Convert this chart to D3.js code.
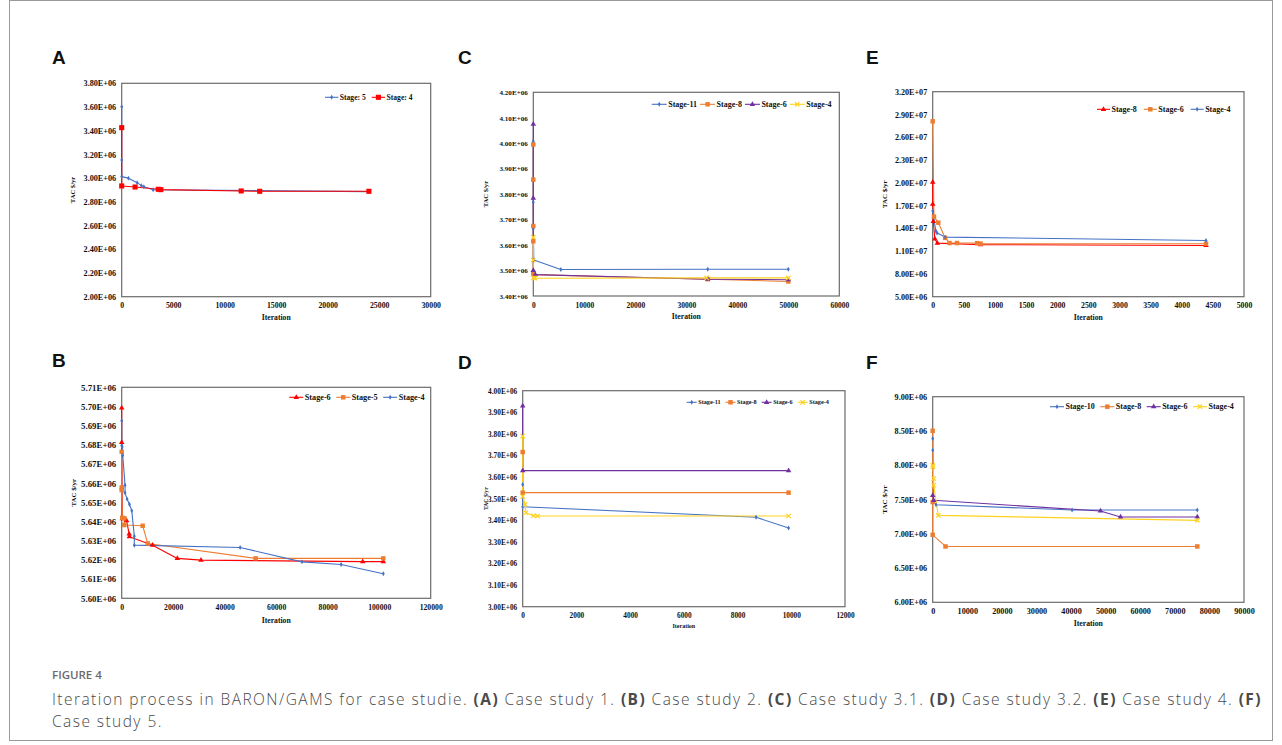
<!DOCTYPE html>
<html>
<head>
<meta charset="utf-8">
<script src="https://cdn.jsdelivr.net/npm/d3@7"></script>
<style>
  body { margin: 0; background: #fff; }
</style>
</head>
<body>
<script>
// ---- data ----
// A: case study 1
const aXTicks = [0, 5000, 10000, 15000, 20000, 25000, 30000];
const aYTicks = [2000000, 2200000, 2400000, 2600000, 2800000, 3000000, 3200000, 3400000, 3600000, 3800000];
const aStage5 = [[0, 3603000], [0, 3153000], [0, 3013000], [650, 3000000], [1500, 2962000], [1900, 2937000], [2150, 2928000], [3050, 2902000], [24000, 2886000]];
const aStage4 = [[0, 3426000], [0, 2934000], [1300, 2925000], [3550, 2906000], [3800, 2903000], [11600, 2892000], [13400, 2889000], [24000, 2889000]];

// B: case study 2
const bXTicks = [0, 20000, 40000, 60000, 80000, 100000, 120000];
const bYTicks = [5600000, 5610000, 5620000, 5630000, 5640000, 5650000, 5660000, 5670000, 5680000, 5690000, 5700000, 5710000];
const bStage6 = [[0, 5699200], [0, 5681300], [200, 5641500], [1900, 5640500], [2900, 5633500], [3000, 5632100], [12000, 5627700], [21600, 5620800], [30800, 5619900], [93600, 5619100], [101600, 5619100]];
const bStage5 = [[0, 5676400], [0, 5657800], [0, 5656400], [200, 5642000], [1000, 5641700], [1000, 5638200], [8150, 5637800], [10100, 5628600], [52000, 5620800], [101600, 5620800]];
const bStage4 = [[0, 5692600], [0, 5679600], [200, 5679000], [400, 5674500], [1300, 5659000], [1300, 5655000], [2100, 5651700], [3000, 5649000], [3900, 5645700], [4900, 5632400], [4900, 5627700], [46000, 5626500], [70000, 5619000], [85200, 5617600], [101600, 5612800]];

// C: case study 3.1
const cXTicks = [0, 10000, 20000, 30000, 40000, 50000, 60000];
const cYTicks = [3400000, 3500000, 3600000, 3700000, 3800000, 3900000, 4000000, 4100000, 4200000];
const cStage11 = [[0, 4008000], [0, 3768000], [0, 3664000], [100, 3541000], [5400, 3504000], [34200, 3505000], [50000, 3505000]];
const cStage8 = [[0, 3995000], [0, 3857000], [0, 3675000], [0, 3615000], [0, 3490000], [100, 3484000], [34200, 3466000], [50000, 3457000]];
const cStage6 = [[0, 4075000], [0, 3784000], [0, 3500000], [400, 3484000], [34200, 3466000], [50000, 3464000]];
const cStage4 = [[0, 3631000], [0, 3541000], [0, 3471000], [300, 3470000], [34000, 3471000], [50000, 3471000]];

// D: case study 3.2
const dXTicks = [0, 2000, 4000, 6000, 8000, 10000, 12000];
const dYTicks = [3000000, 3100000, 3200000, 3300000, 3400000, 3500000, 3600000, 3700000, 3800000, 3900000, 4000000];
const dStage11 = [[0, 3566000], [0, 3463000], [8690, 3414000], [9900, 3364000]];
const dStage8 = [[0, 3716000], [0, 3528000], [9900, 3528000]];
const dStage6 = [[0, 3929000], [0, 3630000], [9900, 3630000]];
const dStage4 = [[0, 3790000], [0, 3510000], [90, 3474000], [120, 3435000], [400, 3421000], [550, 3420000], [9900, 3420000]];

// E: case study 4
const eXTicks = [0, 500, 1000, 1500, 2000, 2500, 3000, 3500, 4000, 4500, 5000];
const eYTicks = [5000000, 8000000, 11000000, 14000000, 17000000, 20000000, 23000000, 26000000, 29000000, 32000000];
const eStage8 = [[0, 20100000], [0, 17200000], [10, 14900000], [35, 12600000], [75, 12050000], [770, 11850000], [4390, 11750000]];
const eStage6 = [[0, 28100000], [20, 15550000], [90, 14750000], [200, 12750000], [270, 12070000], [390, 12070000], [715, 12050000], [770, 11980000], [4390, 11980000]];
const eStage4 = [[0, 16300000], [50, 13650000], [70, 13400000], [200, 12850000], [4390, 12400000]];

// F: case study 5
const fXTicks = [0, 10000, 20000, 30000, 40000, 50000, 60000, 70000, 80000, 90000];
const fYTicks = [6000000, 6500000, 7000000, 7500000, 8000000, 8500000, 9000000];
const fStage10 = [[0, 8390000], [0, 8220000], [200, 7470000], [960, 7424000], [40300, 7347000], [76500, 7347000]];
const fStage8 = [[0, 8502000], [0, 7463000], [0, 6985000], [3700, 6815000], [76500, 6815000]];
const fStage6 = [[0, 7561000], [300, 7488000], [48500, 7332000], [54300, 7245000], [76500, 7245000]];
const fStage4 = [[0, 8000000], [100, 7980000], [300, 7805000], [300, 7707000], [1600, 7268000], [76500, 7196000]];

// ---- styling ----
const BLUE = "#4472C4", RED = "#FF0000", ORANGE = "#ED7D31", PURPLE = "#7030A0", YELLOW = "#FFD21F";
const SERIF = "'Liberation Serif', 'Times New Roman', serif";
const W = 1282, H = 745;

const MARKERS = {
    diamond: { type: d3.symbolDiamond, size: 7, stroke: false },
    square: { type: d3.symbolSquare, size: 20, stroke: false },
    bigsquare: { type: d3.symbolSquare, size: 26, stroke: false },
    triangle: { type: d3.symbolTriangle, size: 13, stroke: false },
    x: { type: d3.symbolX, size: 14, stroke: true }
};

const PANELS = [
    {
        letter: "A", letterAt: [52, 63.5], box: { l: 121.7, t: 83.3, r: 430.7, b: 296.7 },
        xTicks: aXTicks, yTicks: aYTicks,
        series: [
            { name: "Stage: 5", data: aStage5, color: BLUE, marker: "diamond" },
            { name: "Stage: 4", data: aStage4, color: RED, marker: "bigsquare" }
        ],
        legend: { x: 325, y: 97.3, line: 13.3, gap: 6 },
        font: { yTick: 8.2, xTick: 7.8, legend: 7.6, xTitle: 7.7, yTitle: 6.6 },
        xTitleDy: 21, yTitleDx: 48.4
    },
    {
        letter: "C", letterAt: [458, 64], box: { l: 533.3, t: 92.3, r: 839.3, b: 296 },
        xTicks: cXTicks, yTicks: cYTicks,
        series: [
            { name: "Stage-11", data: cStage11, color: BLUE, marker: "diamond" },
            { name: "Stage-8", data: cStage8, color: ORANGE, marker: "square" },
            { name: "Stage-6", data: cStage6, color: PURPLE, marker: "triangle" },
            { name: "Stage-4", data: cStage4, color: YELLOW, marker: "x" }
        ],
        legend: { x: 651.7, y: 104.3, line: 15, gap: 3 },
        font: { yTick: 7.1, xTick: 7.5, legend: 8.0, xTitle: 7.7, yTitle: 6.6 },
        xTitleDy: 20.7, yTitleDx: 47.3
    },
    {
        letter: "E", letterAt: [866, 63.5], box: { l: 932.7, t: 91.7, r: 1244, b: 296.7 },
        xTicks: eXTicks, yTicks: eYTicks,
        series: [
            { name: "Stage-8", data: eStage8, color: RED, marker: "triangle" },
            { name: "Stage-6", data: eStage6, color: ORANGE, marker: "square" },
            { name: "Stage-4", data: eStage4, color: BLUE, marker: "diamond" }
        ],
        legend: { x: 1097, y: 109.3, line: 13, gap: 7 },
        font: { yTick: 8.1, xTick: 7.8, legend: 8.0, xTitle: 7.7, yTitle: 6.9 },
        xTitleDy: 20.6, yTitleDx: 47.7
    },
    {
        letter: "B", letterAt: [52, 366.7], box: { l: 121.7, t: 387.3, r: 430.7, b: 598.3 },
        xTicks: bXTicks, yTicks: bYTicks,
        series: [
            { name: "Stage-6", data: bStage6, color: RED, marker: "triangle" },
            { name: "Stage-5", data: bStage5, color: ORANGE, marker: "square" },
            { name: "Stage-4", data: bStage4, color: BLUE, marker: "diamond" }
        ],
        legend: { x: 289.3, y: 397.3, line: 14, gap: 5.5 },
        font: { yTick: 8.8, xTick: 7.7, legend: 8.2, xTitle: 7.7, yTitle: 6.9 },
        xTitleDy: 22, yTitleDx: 48.4
    },
    {
        letter: "D", letterAt: [458, 369], box: { l: 522.7, t: 390.7, r: 845, b: 606.7 },
        xTicks: dXTicks, yTicks: dYTicks,
        series: [
            { name: "Stage-11", data: dStage11, color: BLUE, marker: "diamond" },
            { name: "Stage-8", data: dStage8, color: ORANGE, marker: "square" },
            { name: "Stage-6", data: dStage6, color: PURPLE, marker: "triangle" },
            { name: "Stage-4", data: dStage4, color: YELLOW, marker: "x" }
        ],
        legend: { x: 686.7, y: 402.3, line: 10, gap: 5 },
        font: { yTick: 7.3, xTick: 7.3, legend: 6.2, xTitle: 6.0, yTitle: 5.7 },
        xTitleDy: 19.3, yTitleDx: 37
    },
    {
        letter: "F", letterAt: [866, 369], box: { l: 932.7, t: 396.7, r: 1244, b: 602.3 },
        xTicks: fXTicks, yTicks: fYTicks,
        series: [
            { name: "Stage-10", data: fStage10, color: BLUE, marker: "diamond" },
            { name: "Stage-8", data: fStage8, color: ORANGE, marker: "square" },
            { name: "Stage-6", data: fStage6, color: PURPLE, marker: "triangle" },
            { name: "Stage-4", data: fStage4, color: YELLOW, marker: "x" }
        ],
        legend: { x: 1050, y: 406.7, line: 14, gap: 5.5 },
        font: { yTick: 8.2, xTick: 8.2, legend: 8.0, xTitle: 7.7, yTitle: 7.1 },
        xTitleDy: 21, yTitleDx: 47.7
    }
];

// 3.80E+06 style labels
const fmtE = v => {
    const e = Math.floor(Math.log10(v) + 1e-9);
    return (v / Math.pow(10, e)).toFixed(2) + "E+" + String(e).padStart(2, "0");
};

const drawMarker = (sel, key, color, x, y) => {
    const m = MARKERS[key];
    sel.append("path")
        .attr("d", d3.symbol(m.type, m.size)())
        .attr("transform", `translate(${x},${y})`)
        .attr("fill", m.stroke ? "none" : color)
        .attr("stroke", m.stroke ? color : "none")
        .attr("stroke-width", m.stroke ? 1.2 : 0);
};

const drawPanel = (svg, p) => {
    const x = d3.scaleLinear().domain(d3.extent(p.xTicks)).range([p.box.l, p.box.r]);
    const y = d3.scaleLinear().domain(d3.extent(p.yTicks)).range([p.box.b, p.box.t]);
    const g = svg.append("g");

    g.append("text")
        .attr("x", p.letterAt[0]).attr("y", p.letterAt[1])
        .attr("font-family", "'Liberation Sans', Arial, sans-serif")
        .attr("font-weight", "bold").attr("font-size", 19).attr("fill", "#111")
        .text(p.letter);

    // plot area frame
    g.append("rect")
        .attr("x", p.box.l).attr("y", p.box.t)
        .attr("width", p.box.r - p.box.l).attr("height", p.box.b - p.box.t)
        .attr("fill", "none").attr("stroke", "#6b6b6b").attr("stroke-width", 1.2);

    const yAxis = g.append("g").attr("transform", `translate(${p.box.l},0)`)
        .call(d3.axisLeft(y).tickValues(p.yTicks).tickFormat(fmtE).tickSize(0).tickPadding(5.5));
    yAxis.select(".domain").remove();
    yAxis.selectAll("text").attr("font-size", p.font.yTick);

    const xAxis = g.append("g").attr("transform", `translate(0,${p.box.b})`)
        .call(d3.axisBottom(x).tickValues(p.xTicks).tickFormat(d3.format("d")).tickSize(0).tickPadding(9 - p.font.xTick * 0.36));
    xAxis.select(".domain").remove();
    xAxis.selectAll("text").attr("font-size", p.font.xTick);

    g.selectAll(".tick text")
        .attr("font-family", SERIF).attr("font-weight", "bold").attr("fill", "#111");

    // series
    const line = d3.line().x(d => x(d[0])).y(d => y(d[1]));
    p.series.forEach(s => {
        g.append("path").datum(s.data)
            .attr("d", line).attr("fill", "none")
            .attr("stroke", s.color).attr("stroke-width", 1.1).attr("stroke-linejoin", "round");
    });
    p.series.forEach(s => {
        const mg = g.append("g");
        s.data.forEach(d => drawMarker(mg, s.marker, s.color, x(d[0]), y(d[1])));
    });

    // legend
    let lx = p.legend.x;
    const ly = p.legend.y;
    p.series.forEach(s => {
        const L = p.legend.line;
        g.append("line").attr("x1", lx).attr("x2", lx + L).attr("y1", ly).attr("y2", ly)
            .attr("stroke", s.color).attr("stroke-width", 1.1);
        drawMarker(g, s.marker, s.color, lx + L / 2, ly);
        const t = g.append("text")
            .attr("x", lx + L + 1.5).attr("y", ly + p.font.legend * 0.33)
            .attr("font-family", SERIF).attr("font-weight", "bold")
            .attr("font-size", p.font.legend).attr("fill", "#111")
            .text(s.name);
        lx += L + 1.5 + t.node().getComputedTextLength() + p.legend.gap;
    });

    // axis titles
    g.append("text")
        .attr("x", (p.box.l + p.box.r) / 2).attr("y", p.box.b + p.xTitleDy + p.font.xTitle * 0.33)
        .attr("text-anchor", "middle")
        .attr("font-family", SERIF).attr("font-weight", "bold")
        .attr("font-size", p.font.xTitle).attr("fill", "#111")
        .text("Iteration");
    const cy = (p.box.t + p.box.b) / 2;
    const cx = p.box.l - p.yTitleDx + p.font.yTitle * 0.33;
    g.append("text")
        .attr("transform", `translate(${cx},${cy}) rotate(-90)`)
        .attr("text-anchor", "middle")
        .attr("font-family", SERIF).attr("font-weight", "bold")
        .attr("font-size", p.font.yTitle).attr("fill", "#111")
        .text("TAC $/yr");
};

const svg = d3.select("body").append("svg")
    .attr("width", W).attr("height", H)
    .attr("viewBox", [0, 0, W, H])
    .style("display", "block");

svg.append("rect")
    .attr("x", 9.5).attr("y", 0.5).attr("width", 1263).attr("height", 740)
    .attr("fill", "#fff").attr("stroke", "#9a9a9a").attr("stroke-width", 1);

PANELS.forEach(p => drawPanel(svg, p));

// caption
const CAPTION_FONT = "'Open Sans', 'Noto Sans', sans-serif";
const CAPTION_SIZE = 15.5;
const captionLine1 = [
    ["Iteration process in BARON/GAMS for case studie. ", false],
    ["(A)", true], [" Case study 1. ", false],
    ["(B)", true], [" Case study 2. ", false],
    ["(C)", true], [" Case study 3.1. ", false],
    ["(D)", true], [" Case study 3.2. ", false],
    ["(E)", true], [" Case study 4. ", false],
    ["(F)", true]
];

svg.append("text")
    .attr("x", 52).attr("y", 679)
    .attr("font-family", CAPTION_FONT).attr("font-weight", 600)
    .attr("font-size", 11.5).attr("fill", "#6b6b6b")
    .text("FIGURE 4");

const cap1 = svg.append("text")
    .attr("x", 52).attr("y", 705)
    .attr("font-family", CAPTION_FONT).attr("font-weight", 300)
    .attr("font-size", CAPTION_SIZE).attr("fill", "#4a4a4a");
cap1.selectAll("tspan").data(captionLine1).join("tspan")
    .attr("font-weight", d => d[1] ? 700 : 300)
    .text(d => d[0]);
// spread the line to the width of the original caption
const capText = captionLine1.map(d => d[0]).join("");
const spacing = (1210 - cap1.node().getComputedTextLength()) / capText.length;
cap1.attr("letter-spacing", spacing);

svg.append("text")
    .attr("x", 52).attr("y", 727)
    .attr("font-family", CAPTION_FONT).attr("font-weight", 300)
    .attr("font-size", CAPTION_SIZE).attr("fill", "#4a4a4a")
    .attr("letter-spacing", spacing)
    .text("Case study 5.");
</script>
</body>
</html>
